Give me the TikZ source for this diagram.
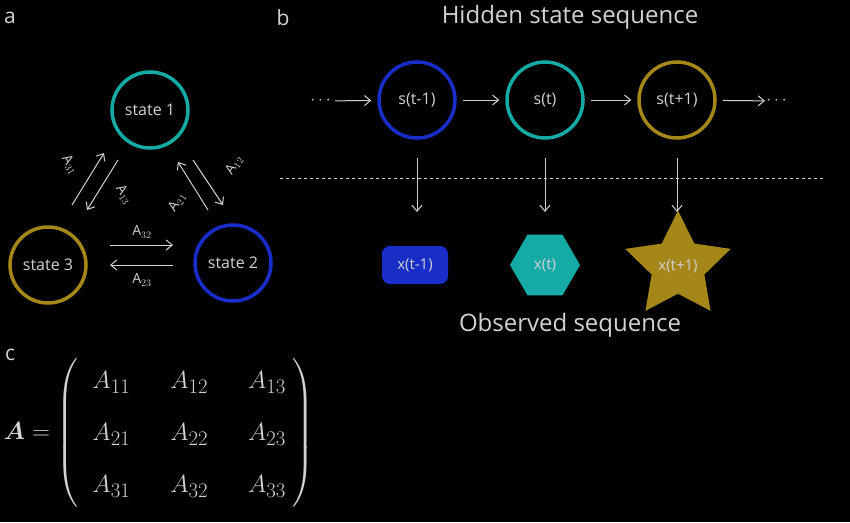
\documentclass[tikz,border=0pt]{standalone}
\usepackage{amsmath,bm}
\usepackage{fontspec}
\setsansfont{Open Sans}
\usetikzlibrary{shapes.geometric,arrows.meta}
\definecolor{cy}{RGB}{20,170,165}
\definecolor{bl}{RGB}{25,45,200}
\definecolor{gd}{RGB}{165,135,25}
\definecolor{tx}{RGB}{210,210,210}
\begin{document}
\begin{tikzpicture}[x=1pt,y=-1pt,font=\sffamily,
  st/.style={circle,draw,line width=3.5pt,minimum size=76pt,inner sep=0pt,text=tx,font=\sffamily\fontsize{16}{18}\selectfont},
  ar/.style={draw=tx,-{Straight Barb[length=6pt,width=10pt]},line width=1pt},
  lb/.style={text=tx,font=\sffamily\fontsize{14}{16}\selectfont,inner sep=0pt},
  big/.style={text=tx,font=\sffamily\fontsize{21}{24}\selectfont}]
\fill[black] (0,0) rectangle (850,522);
\useasboundingbox (0,0) rectangle (850,522);
\node[big] at (10,18) {a};
\node[big] at (283,18) {b};
\node[big] at (10,355) {c};
% a
\node[st,draw=cy] (s1) at (150,110) {state 1};
\node[st,draw=bl] (s2) at (233,263) {state 2};
\node[st,draw=gd] (s3) at (48,265) {state 3};
\coordinate (l1a) at (72,205); \coordinate (l1b) at (104,153);
\coordinate (l2a) at (118,160); \coordinate (l2b) at (87,210);
\coordinate (r1a) at (193,160); \coordinate (r1b) at (223,205);
\coordinate (r2a) at (208,210); \coordinate (r2b) at (178,162);
\coordinate (h1a) at (110,245); \coordinate (h1b) at (173,245);
\coordinate (h2a) at (173,265); \coordinate (h2b) at (110,265);
\draw[ar] (l1a) -- (l1b);
\draw[ar] (l2a) -- (l2b);
\draw[ar] (r1a) -- (r1b);
\draw[ar] (r2a) -- (r2b);
\draw[ar] (h1a) -- (h1b);
\draw[ar] (h2a) -- (h2b);
\node[lb,rotate=-58] at (70,165) {$\mathsf{A}_{31}$};
\node[lb,rotate=-58] at (124,195) {$\mathsf{A}_{13}$};
\node[lb,rotate=56] at (234,165) {$\mathsf{A}_{12}$};
\node[lb,rotate=56] at (177,202) {$\mathsf{A}_{21}$};
\node[lb] at (142,232) {$\mathsf{A}_{32}$};
\node[lb] at (142,280) {$\mathsf{A}_{23}$};
% b
\node[text=tx,font=\sffamily\fontsize{24}{28}\selectfont] (t1) at (570,17) {Hidden state sequence};
\node[text=tx,font=\sffamily\fontsize{24}{28}\selectfont] (t2) at (570,325) {Observed sequence};
\node[st,draw=bl] (h1) at (417,100) {s(t-1)};
\node[st,draw=cy] (h2) at (545,100) {s(t)};
\node[st,draw=gd] (h3) at (677,100) {s(t+1)};
\node[text=tx,font=\fontsize{16}{18}\selectfont] (d1) at (322,101) {$\cdots$};
\node[text=tx,font=\fontsize{16}{18}\selectfont] (d2) at (778,101) {$\cdots$};
\draw[ar,shorten <=-2pt,shorten >=6pt] (d1) -- (h1);
\draw[ar,shorten <=6pt,shorten >=6pt] (h1) -- (h2);
\draw[ar,shorten <=6pt,shorten >=6pt] (h2) -- (h3);
\draw[ar,shorten <=6pt,shorten >=-2pt] (h3) -- (d2);
\draw[tx,dashed,line width=0.6pt] (280,178) -- (825,178);
\node[fill=bl,minimum width=66pt,minimum height=38pt,rounded corners=8pt,text=tx,font=\sffamily\fontsize{15}{17}\selectfont] (o1) at (415,265) {x(t-1)};
\node[regular polygon,regular polygon sides=6,fill=cy,minimum size=70pt,inner sep=0pt,text=tx,font=\sffamily\fontsize{15}{17}\selectfont] (o2) at (545,265) {x(t)};
\node[star,star points=5,star point ratio=2.0,fill=gd,minimum size=76pt,inner sep=0pt,text=tx,font=\sffamily\fontsize{15}{17}\selectfont] (o3) at (678,266) {x(t+1)};
\coordinate (e1) at (417,212); \coordinate (e2) at (545,212); \coordinate (e3) at (677,212);
\draw[ar,shorten <=18pt] (h1) -- (e1);
\draw[ar,shorten <=18pt] (h2) -- (e2);
\draw[ar,shorten <=18pt] (h3) -- (e3);
% c
\node[text=tx,font=\fontsize{32}{36}\selectfont,anchor=west] (m) at (0,433) {$\bm{A}=\left(\begin{array}{@{\;\;}c@{\hspace{40pt}}c@{\hspace{40pt}}c@{\;}}A_{11}&A_{12}&A_{13}\\[16pt] A_{21}&A_{22}&A_{23}\\[16pt] A_{31}&A_{32}&A_{33}\end{array}\right)$};
\end{tikzpicture}
\end{document}
